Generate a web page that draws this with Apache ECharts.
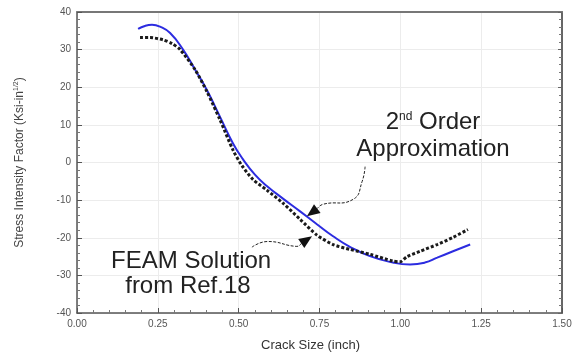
<!DOCTYPE html>
<html>
<head>
<meta charset="utf-8">
<script src="https://cdn.jsdelivr.net/npm/echarts@6/dist/echarts.min.js"></script>
<style>html,body{margin:0;padding:0;background:#fff}#c{width:584px;height:360px}</style>
</head>
<body>
<div id="c"></div>
<script>
// Data
var approxX = [0.189,0.210,0.232,0.257,0.288,0.328,0.365,0.402,0.442,0.483,0.513,0.551,0.588,0.637,0.690,0.742,0.792,0.844,0.906,0.977,1.030,1.076,1.114,1.163,1.216];
var approxY = [35.5,36.3,36.6,36.1,34.4,30.0,24.7,19.2,12.2,5.0,0.9,-3.3,-6.3,-9.6,-13.0,-16.4,-19.6,-22.4,-24.9,-26.6,-27.1,-26.6,-25.3,-23.6,-21.8];
var feamX = [0.195,0.226,0.266,0.294,0.319,0.365,0.402,0.442,0.483,0.510,0.544,0.588,0.637,0.690,0.742,0.792,0.844,0.906,0.977,0.999,1.021,1.061,1.114,1.163,1.209];
var feamY = [33.2,33.2,32.6,31.6,30.0,24.7,18.8,11.4,3.2,-0.8,-4.5,-7.4,-10.8,-15.1,-19.3,-21.8,-23.1,-24.4,-26.2,-26.4,-25.0,-23.6,-21.8,-19.9,-17.8];
var xTicks = [0,0.25,0.5,0.75,1.0,1.25,1.5];
var yTicks = [-40,-30,-20,-10,0,10,20,30,40];

function zip(a,b){return a.map(function(v,i){return [v,b[i]];});}

var font = '"Liberation Sans", Arial, sans-serif';
var chart = echarts.init(document.getElementById('c'), null, {renderer:'canvas'});
function aLine(c,w){return {show:true, onZero:false, lineStyle:{color:c, width:w}};}
chart.setOption({
  animation:false,
  backgroundColor:'#fff',
  grid:{left:77, right:22, top:12, bottom:47},
  xAxis:[{
    type:'value', min:xTicks[0], max:xTicks[xTicks.length-1], interval:0.25,
    name:'Crack Size (inch)', nameLocation:'middle', nameGap:26,
    nameTextStyle:{fontFamily:font, fontSize:13, color:'#333', padding:[0,18,0,0]},
    axisLine:aLine('#555',1.5),
    axisTick:{show:true, inside:true, length:5, lineStyle:{color:'#555'}},
    minorTick:{show:true, splitNumber:5, length:3, lineStyle:{color:'#777'}},
    axisLabel:{fontFamily:font, fontSize:10, color:'#555', margin:6, formatter:function(v){return v.toFixed(2);}},
    splitLine:{show:true, lineStyle:{color:'#ececec', width:1}}
  },{
    type:'value', position:'top', min:0, max:1.5, interval:0.25,
    axisLine:aLine('#777',2), axisTick:{show:false}, axisLabel:{show:false}, splitLine:{show:false}
  }],
  yAxis:[{
    type:'value', min:yTicks[0], max:yTicks[yTicks.length-1], interval:10,
    name:'Stress Intensity Factor (Ksi-in{s|1/2})', nameLocation:'middle', nameGap:51,
    nameTextStyle:{fontFamily:font, fontSize:12, color:'#444', rich:{s:{fontSize:7, verticalAlign:'top', color:'#444', fontFamily:font, padding:[0,0,6,0]}}},
    axisLine:aLine('#555',1.5),
    axisTick:{show:true, inside:true, length:5, lineStyle:{color:'#555'}},
    minorTick:{show:true, splitNumber:5, length:3, lineStyle:{color:'#777'}},
    axisLabel:{fontFamily:font, fontSize:10, color:'#555', margin:6},
    splitLine:{show:true, lineStyle:{color:'#ececec', width:1}}
  },{
    type:'value', position:'right', min:-40, max:40, interval:10,
    axisLine:aLine('#666',2),
    axisTick:{show:true, inside:true, length:4, lineStyle:{color:'#666'}},
    minorTick:{show:true, splitNumber:5, length:3, lineStyle:{color:'#777'}},
    axisLabel:{show:false}, splitLine:{show:false}
  }],
  series:[{
    name:'2nd Order Approximation', type:'line', data:zip(approxX,approxY), smooth:0.5,
    showSymbol:false, lineStyle:{color:'#2c2ce0', width:2}, z:3
  },{
    name:'FEAM Solution', type:'line', data:zip(feamX,feamY), smooth:0.25,
    showSymbol:false, lineStyle:{color:'#1a1a1a', width:3, type:[3,2]}, z:4
  }]
});

// Annotations placed in data coordinates
var arrow1 = [[0.891,-1.1],[0.882,-5.0],[0.854,-9.8],[0.761,-11.1],[0.711,-14.3]];
var arrow2 = [[0.541,-22.5],[0.588,-21.0],[0.680,-22.3],[0.727,-19.6]];
var labels = [
  {t:'2{s|nd} Order', p:[1.101,10.6]},
  {t:'Approximation', p:[1.101,3.4]},
  {t:'FEAM Solution', p:[0.353,-26.3]},
  {t:'from Ref.18', p:[0.343,-32.9]}
];
function px(p){return chart.convertToPixel({xAxisIndex:0,yAxisIndex:0}, p);}
function arrowParts(pts, dashed){
  var P = pts.map(px);
  var n = P.length;
  var tip = P[n-1], prev = P[n-2];
  var dx = tip[0]-prev[0], dy = tip[1]-prev[1], L = Math.sqrt(dx*dx+dy*dy);
  dx/=L; dy/=L;
  var len = 13, hw = 5.5;
  var bx = tip[0]-dx*len, by = tip[1]-dy*len;
  var line = P.slice(0,n-1).concat([[bx,by]]);
  return [{
    type:'polyline', shape:{points:line, smooth:0.5},
    style:{stroke:'#222', lineWidth:1, fill:null, lineDash: dashed ? [3,1.5] : null}, z:10
  },{
    type:'polygon', shape:{points:[tip,[bx-dy*hw,by+dx*hw],[bx+dy*hw,by-dx*hw]]},
    style:{fill:'#111'}, z:10
  }];
}
var g = [].concat(arrowParts(arrow1,true), arrowParts(arrow2,true));
labels.forEach(function(l){
  var q = px(l.p);
  g.push({type:'text', x:q[0], y:q[1], z:11,
    style:{text:l.t, fontFamily:font, fontSize:24, fill:'#222', align:'center', verticalAlign:'middle',
      rich:{s:{fontSize:12, fontFamily:font, fill:'#222', verticalAlign:'top', padding:[0,0,10,0]}}}});
});
chart.setOption({graphic:g});
</script>
</body>
</html>
